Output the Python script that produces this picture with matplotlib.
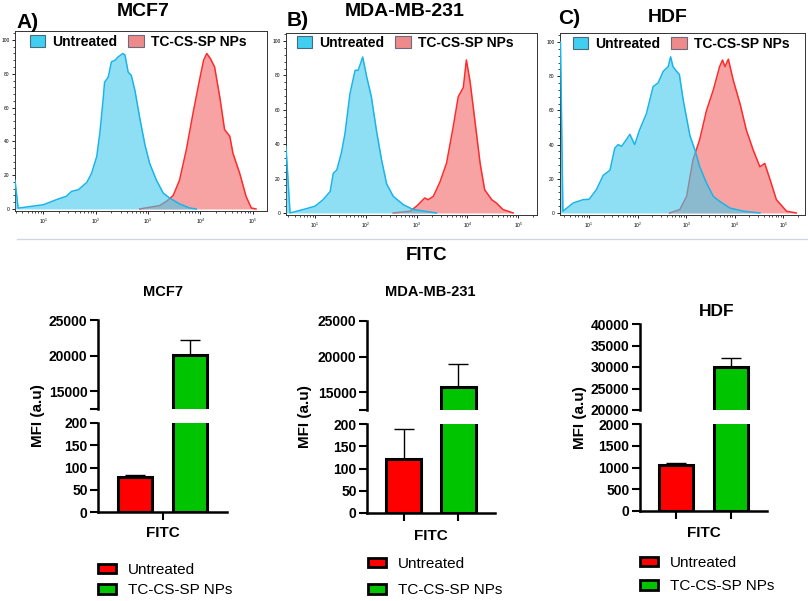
import matplotlib
matplotlib.use('Agg')
import matplotlib.pyplot as plt
import numpy as np
from matplotlib.patches import Patch
from matplotlib.lines import Line2D
from matplotlib.ticker import FixedLocator, MultipleLocator

plt.rcParams['font.family'] = ['Liberation Sans', 'DejaVu Sans']
plt.rcParams['mathtext.fontset'] = 'custom'
plt.rcParams['mathtext.rm'] = 'Liberation Sans'

W, H = 808, 601

# ---- flow cytometry histograms: (log10 FITC intensity, % of max) ----
MCF7_UNT_LOG = [0.46, 0.52, 1.0, 1.25, 1.44, 1.54, 1.67, 1.83, 1.92, 2.02, 2.08, 2.14, 2.17,
                2.24, 2.30, 2.37, 2.43, 2.52, 2.56, 2.62, 2.68, 2.75, 2.84, 2.94, 3.03,
                3.16, 3.29, 3.41, 3.60, 3.79, 3.92]
MCF7_UNT_CNT = [17, 0.5, 2.5, 5.5, 7.5, 10.4, 11.4, 15.7, 21, 31, 45, 64, 75,
                78, 87, 88, 90, 92, 91, 81, 79, 70, 54, 38, 27,
                17, 9.4, 6.5, 3, 0.6, 0]
MCF7_TRT_LOG = [2.84, 3.03, 3.22, 3.35, 3.48, 3.60, 3.73, 3.86, 3.98, 4.06, 4.12, 4.19,
                4.27, 4.37, 4.46, 4.56, 4.62, 4.75, 4.87, 4.97, 5.06]
MCF7_TRT_CNT = [0, 1, 2, 4.5, 8, 17, 35, 57, 76, 88, 92, 89,
                84, 66, 47, 43, 33, 21, 7.5, 0.6, 0]

MDA_UNT_LOG = [0.43, 0.51, 0.77, 1.0, 1.16, 1.30, 1.36, 1.43, 1.52, 1.59, 1.69, 1.79,
               1.85, 1.94, 2.02, 2.11, 2.21, 2.31, 2.41, 2.54, 2.74, 2.93, 3.39]
MDA_UNT_CNT = [38.6, 0, 2, 3.9, 7.7, 12.5, 23, 25, 35, 46, 69.5, 83,
               83, 90.7, 79, 67.6, 48, 31, 17, 9.7, 4.8, 2, 0]
MDA_TRT_LOG = [2.54, 2.87, 3.0, 3.16, 3.23, 3.33, 3.46, 3.59, 3.72, 3.82, 3.92, 3.98,
               4.05, 4.13, 4.25, 4.34, 4.48, 4.57, 4.70, 4.90]
MDA_TRT_CNT = [0, 1, 3.9, 8.7, 7.7, 9.7, 18, 29, 50, 67.6, 73, 89,
               77, 58, 29, 13.5, 7.7, 5.8, 2, 0]

HDF_UNT_LOG = [0.41, 0.46, 0.67, 0.88, 1.0, 1.15, 1.29, 1.43, 1.53, 1.60, 1.67, 1.77,
               1.84, 1.94, 2.04, 2.18, 2.32, 2.42, 2.53, 2.63, 2.68, 2.73, 2.80, 2.86,
               2.94, 3.08, 3.18, 3.28, 3.42, 3.56, 3.69, 3.90, 4.18, 4.52]
HDF_UNT_CNT = [100, 1, 5.8, 7.8, 8, 13.6, 22, 25, 38, 40, 39, 43,
               46, 40, 48.6, 58, 74, 76, 83, 85.6, 91.4, 85.6, 83, 81,
               66, 45, 37, 27, 17.5, 9.7, 6.8, 2.9, 1, 0]
HDF_TRT_LOG = [2.66, 2.87, 3.01, 3.14, 3.28, 3.42, 3.56, 3.69, 3.75, 3.80, 3.87, 3.97,
               4.11, 4.24, 4.38, 4.52, 4.62, 4.73, 4.86, 5.07, 5.27]
HDF_TRT_CNT = [0, 2, 9.7, 31, 43, 60, 72, 85.6, 89.5, 85.6, 90, 77.8,
               64, 48.6, 37, 27, 29, 19.5, 7.8, 1, 0]

# ---- MFI bar charts ----
GROUPS = ["Untreated", "TC-CS-SP NPs"]
MCF7_MFI = [79, 20100]
MCF7_ERR = [5, 2150]
MDA_MFI = [122, 15700]
MDA_ERR = [67, 3200]
HDF_MFI = [1060, 30000]
HDF_ERR = [40, 2150]

HIST_TICKS = [1, 2, 3, 4, 5]
HIST_YTICKS = [0, 20, 40, 60, 80, 100]

CYAN_LINE = '#18b4ea'
CYAN_FILL = '#43cbed'
RED_LINE = '#ff2a2a'
PINK_FILL = '#f7a3a3'
BAR_RED = '#ff0000'
BAR_GREEN = '#00c400'


def fig_rect(x0, y0, x1, y1):
    return [x0 / W, 1 - y1 / H, (x1 - x0) / W, (y1 - y0) / H]


def fx(x):
    return x / W


def fy(y):
    return 1 - y / H


def histogram_panel(fig, box, xlim, ylim, unt, trt, legend_pos):
    ax = fig.add_axes(fig_rect(*box))
    ux = 10 ** np.array(unt[0])
    tx = 10 ** np.array(trt[0])
    ax.fill_between(tx, 0, trt[1], color=PINK_FILL, lw=0, zorder=1)
    ax.plot(tx, trt[1], color=RED_LINE, lw=1.1, zorder=2)
    ax.fill_between(ux, 0, unt[1], color=CYAN_FILL, alpha=0.6, lw=0, zorder=3)
    ax.plot(ux, unt[1], color=CYAN_LINE, lw=1.1, zorder=4)
    ax.set_xscale('log')
    ax.set_xlim(10 ** xlim[0], 10 ** xlim[1])
    ax.set_ylim(*ylim)
    ax.set_xticks([10 ** t for t in HIST_TICKS])
    ax.set_xticklabels([f'$10^{{{t}}}$' for t in HIST_TICKS])
    ax.set_yticks(HIST_YTICKS)
    ax.yaxis.set_minor_locator(MultipleLocator(4))
    ax.tick_params(which='major', labelsize=3.5, length=2.5, width=0.6, pad=1.5)
    ax.tick_params(which='minor', length=1.3, width=0.5)
    for s in ax.spines.values():
        s.set_linewidth(0.7)
        s.set_color('#333333')
    handles = [Patch(facecolor='#40cff0', edgecolor='#4a6a7a', lw=0.8, label='Untreated'),
               Patch(facecolor='#ef8a8a', edgecolor='#6a6a80', lw=0.8, label='TC-CS-SP NPs')]
    fig.legend(handles=handles, ncol=2, loc='center left',
               bbox_to_anchor=(fx(legend_pos[0]), fy(legend_pos[1])),
               frameon=False, borderpad=0, borderaxespad=0,
               prop={'weight': 'bold', 'size': 10},
               handlelength=1.1, handleheight=0.9, handletextpad=0.5, columnspacing=0.8)
    return ax


def bar_panel(fig, xs, up, low, vals, errs, up_lim, up_ticks, up_labels,
              low_lim, low_ticks, xticks, title, title_pos, label_y, ylab_x, legend_pos, lspacing):
    x0, x1 = xs
    ax_up = fig.add_axes(fig_rect(x0, up[0], x1, up[1]))
    ax_lo = fig.add_axes(fig_rect(x0, low[0], x1, low[1]))
    colors = [BAR_RED, BAR_GREEN]
    pos = [0, 1]
    for ax in (ax_up, ax_lo):
        ax.bar(pos, vals, width=0.63, color=colors, edgecolor='black', linewidth=2.2, zorder=2)
        ax.set_xlim(-0.67, 1.67)
        ax.spines['top'].set_visible(False)
        ax.spines['right'].set_visible(False)
        ax.spines['left'].set_linewidth(1.8)
        ax.spines['bottom'].set_linewidth(1.8)
        ax.tick_params(axis='both', length=6, width=1.5, labelsize=10, pad=1.5)
        for lab in ax.get_yticklabels():
            lab.set_fontweight('bold')
    # error bars go on whichever segment shows the bar top
    for i in pos:
        ax = ax_lo if vals[i] <= low_lim[1] else ax_up
        ax.errorbar(i, vals[i], yerr=[[0], [errs[i]]], fmt='none', ecolor='black',
                    elinewidth=1, capsize=7, capthick=1, zorder=1)

    ax_up.set_ylim(*up_lim)
    ax_up.set_yticks(up_ticks)
    ax_up.set_yticklabels(up_labels, fontweight='bold')
    ax_up.spines['bottom'].set_visible(False)
    ax_up.set_xticks([])

    ax_lo.set_ylim(*low_lim)
    ax_lo.set_yticks(low_ticks)
    ax_lo.set_yticklabels([str(t) for t in low_ticks], fontweight='bold')
    ax_lo.set_xticks(xticks)
    ax_lo.set_xticklabels([''] * len(xticks))

    fig.text(fx(title_pos[0]), fy(title_pos[1]), title, ha='center', va='center',
             fontsize=title_pos[2], fontweight='bold')
    fig.text(fx((x0 + x1) / 2), fy(label_y), 'FITC', ha='center', va='center',
             fontsize=11, fontweight='bold')
    fig.text(fx(ylab_x), fy((up[0] + low[1]) / 2), 'MFI (a.u)', rotation=90,
             ha='center', va='center', fontsize=11, fontweight='bold')

    handles = [Patch(facecolor=BAR_RED, edgecolor='black', lw=2, label=GROUPS[0]),
               Patch(facecolor=BAR_GREEN, edgecolor='black', lw=2, label=GROUPS[1])]
    fig.legend(handles=handles, loc='center left',
               bbox_to_anchor=(fx(legend_pos[0]), fy(legend_pos[1])),
               frameon=False, borderpad=0, borderaxespad=0, fontsize=11,
               handlelength=1.2, handleheight=0.55, handletextpad=0.75,
               labelspacing=lspacing)


fig = plt.figure(figsize=(W / 100, H / 100), dpi=100)

# top row: histograms
histogram_panel(fig, (15, 31, 267, 211), (0.46, 5.27), (-1.2, 105.3),
                (MCF7_UNT_LOG, MCF7_UNT_CNT), (MCF7_TRT_LOG, MCF7_TRT_CNT), (30, 42))
histogram_panel(fig, (286, 33, 537, 215), (0.43, 5.37), (-1.2, 104.7),
                (MDA_UNT_LOG, MDA_UNT_CNT), (MDA_TRT_LOG, MDA_TRT_CNT), (297, 43))
histogram_panel(fig, (560, 33, 805, 215), (0.40, 5.45), (-1.2, 105.3),
                (HDF_UNT_LOG, HDF_UNT_CNT), (HDF_TRT_LOG, HDF_TRT_CNT), (573, 44))

for lbl, x, y in [('A)', 16, 23), ('B)', 287, 20), ('C)', 558, 18)]:
    fig.text(fx(x), fy(y), lbl, ha='left', va='center', fontsize=15, fontweight='bold')
for name, x, y in [('MCF7', 143, 12), ('MDA-MB-231', 405, 12), ('HDF', 668, 17)]:
    fig.text(fx(x), fy(y), name, ha='center', va='center', fontsize=14, fontweight='bold')

fig.add_artist(Line2D([fx(17), 1.0], [fy(239), fy(239)], color='#cdd8e4', lw=1))
fig.text(fx(427), fy(255), 'FITC', ha='center', va='center', fontsize=13.5, fontweight='bold')

# bottom row: broken-axis MFI bar charts
bar_panel(fig, (98, 227), (320, 409), (423, 512), MCF7_MFI, MCF7_ERR,
          (12500, 25000), [12500, 15000, 20000, 25000], ['', '15000', '20000', '25000'],
          (0, 200), [0, 50, 100, 150, 200], [0.5],
          'MCF7', (163, 292, 10.5), 533, 38, (98, 580), 0.45)
bar_panel(fig, (367, 495), (321, 410), (424, 513), MDA_MFI, MDA_ERR,
          (12500, 25000), [12500, 15000, 20000, 25000], ['', '15000', '20000', '25000'],
          (0, 200), [0, 50, 100, 150, 200], [0, 1],
          'MDA-MB-231', (430, 292, 10.5), 536, 305, (368, 577), 0.85)
bar_panel(fig, (640, 767), (324, 410), (424, 511), HDF_MFI, HDF_ERR,
          (20000, 40000), [20000, 25000, 30000, 35000, 40000],
          ['20000', '25000', '30000', '35000', '40000'],
          (0, 2000), [0, 500, 1000, 1500, 2000], [0, 1],
          'HDF', (717, 312, 12.5), 533, 580, (640, 574.5), 0.65)

fig.savefig('out.png', dpi=100)
